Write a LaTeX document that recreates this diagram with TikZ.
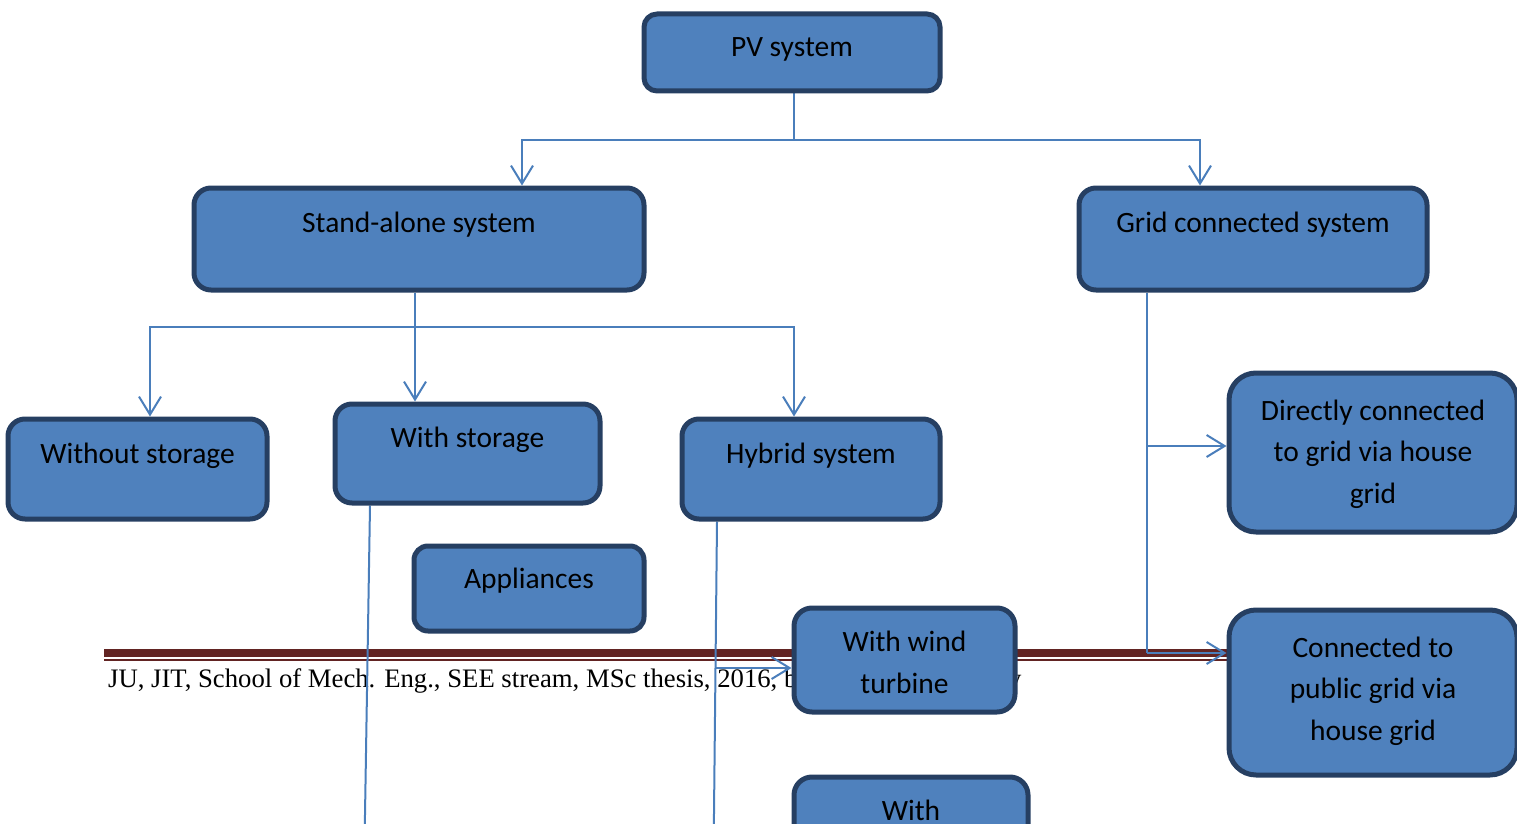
\documentclass[tikz,border=0pt]{standalone}
\usepackage{fontspec}
\setmainfont{Carlito}
\newfontfamily\footerfont{Liberation Serif}
\usetikzlibrary{arrows.meta,backgrounds}
\definecolor{boxfill}{HTML}{4F81BD}
\definecolor{boxline}{HTML}{263F62}
\definecolor{linkblue}{HTML}{4A7EBB}
\definecolor{rulered}{HTML}{622423}
\tikzset{
  box/.style={draw=boxline, fill=boxfill, line width=5pt, inner sep=0pt},
  lbl/.style={anchor=north, inner sep=0pt, align=center,
              font=\fontsize{29.5}{41.5}\selectfont},
  conn/.style={draw=linkblue, line width=2pt},
  arr/.style={-{Straight Barb[length=18pt,width=22pt]}},
  thickrule/.style={draw=rulered, line width=7.7pt},
  thinrule/.style={draw=rulered, line width=2pt},
  foottext/.style={anchor=base west, inner sep=0pt,
                   font=\footerfont\fontsize{26.7}{32}\selectfont},
}
\begin{document}
\begin{tikzpicture}[x=1pt,y=-1pt]
\clip (0,0) rectangle (1517,824);

% ---- boxes ----
\node[box, rounded corners=13pt, minimum width=296pt, minimum height=77pt] (pv) at (792,52.5) {};
\node[lbl] (pvt) at ([yshift=-16pt]pv.north) {\strut PV system};

\node[box, rounded corners=17pt, minimum width=450pt, minimum height=102pt] (sa) at (419,239) {};
\node[lbl] (sat) at ([yshift=-17.5pt]sa.north) {\strut Stand-alone system};

\node[box, rounded corners=17pt, minimum width=348pt, minimum height=102pt] (gc) at (1253,239) {};
\node[lbl] (gct) at ([yshift=-17.5pt]gc.north) {\strut Grid connected system};

\node[box, rounded corners=17pt, minimum width=259pt, minimum height=100pt] (wo) at (137.5,469) {};
\node[lbl] (wot) at ([yshift=-17.5pt]wo.north) {\strut Without storage};

\node[box, rounded corners=17pt, minimum width=265pt, minimum height=99pt] (ws) at (467.5,453.5) {};
\node[lbl] (wst) at ([yshift=-17pt]ws.north) {\strut With storage};

\node[box, rounded corners=17pt, minimum width=258pt, minimum height=100pt] (hy) at (811,469) {};
\node[lbl] (hyt) at ([yshift=-17.5pt]hy.north) {\strut Hybrid system};

\node[box, rounded corners=14pt, minimum width=230pt, minimum height=85pt] (ap) at (529,588.5) {};
\node[lbl] (apt) at ([yshift=-16pt]ap.north) {\strut Appliances};

\node[box, rounded corners=27pt, minimum width=288pt, minimum height=159pt] (dc) at (1373,452.5) {};
\node[lbl] (dct) at ([yshift=-20.5pt]dc.north) {\strut Directly connected\\to grid via house\\grid};

\node[box, rounded corners=27pt, minimum width=288pt, minimum height=165pt] (cp) at (1373,692.5) {};
\node[lbl] (cpt) at ([yshift=-20.5pt]cp.north) {\strut Connected to\\public grid via\\house grid};

\node[box, rounded corners=18pt, minimum width=221pt, minimum height=104pt] (wt) at (904.5,660) {};
\node[lbl] (wtt) at ([yshift=-17pt]wt.north) {\strut With wind\\turbine};

\node[box, rounded corners=18pt, minimum width=234pt, minimum height=82pt] (wi) at (911,818) {};
\node[lbl] (wit) at ([yshift=-17pt]wi.north) {\strut With};

% ---- bus points ----
\coordinate (pvbus) at (794,140);
\coordinate (sabus) at (415,327);
\coordinate (gcbus) at (1147,653);
\coordinate (hyline) at (715.5,668);

\begin{pgfonlayer}{background}
  % page footer
  \draw[thickrule] (104,652.85) -- (1240,652.85);
  \draw[thinrule]  (104,659.7) -- (1240,659.7);
  \node[foottext] (foot) at (108,687) {JU, JIT, School of Mech. Eng., SEE stream, MSc thesis, 2016, b};
  \node[foottext] (foottail) at (1008,687) {y};

  % PV system branches
  \draw[conn] (pv.south -| pvbus) -- (pvbus);
  \draw[conn,arr] (pvbus) -| ([xshift=103pt]sa.north);
  \draw[conn,arr] (pvbus) -| ([xshift=-53pt]gc.north);

  % stand-alone branches
  \draw[conn] (sa.south -| sabus) -- (sabus);
  \draw[conn,arr] (sabus) -| ([xshift=12.5pt]wo.north);
  \draw[conn,arr] (sabus) -- (ws.north -| sabus);
  \draw[conn,arr] (sabus) -| ([xshift=-17pt]hy.north);

  % grid connected branches
  \draw[conn] (gc.south -| gcbus) -- (gcbus);
  \draw[conn,arr] ([yshift=6.5pt]dc.west -| gcbus) -- ([yshift=6.5pt]dc.west);
  \draw[conn,arr] (gcbus) -- (gcbus -| cp.west);

  % lines running down from storage and hybrid boxes
  \draw[conn] ([xshift=-97.5pt]ws.south) -- ++(-5.5,340);
  \draw[conn] ([xshift=-94pt]hy.south) -- ++(-3.5,340);
  \draw[conn,arr] (hyline) -- (hyline -| wt.west);
\end{pgfonlayer}
\end{tikzpicture}
\end{document}
